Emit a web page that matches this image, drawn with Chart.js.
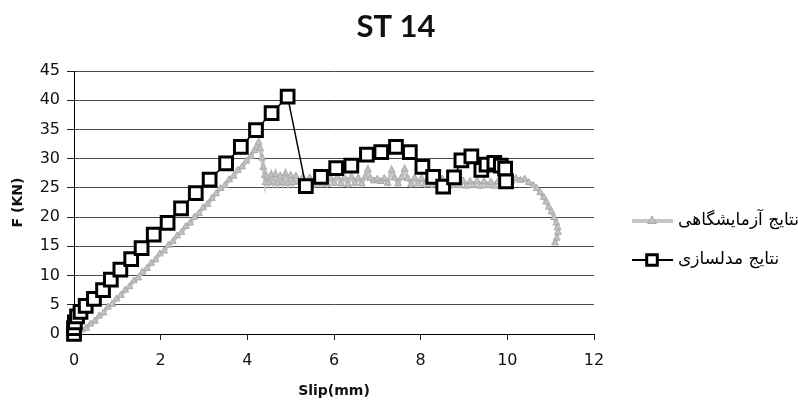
<!DOCTYPE html>
<html>
<head>
<meta charset="utf-8">
<script src="https://cdn.jsdelivr.net/npm/chart.js@4/dist/chart.umd.min.js"></script>
<style>
  html, body { margin: 0; padding: 0; background: #ffffff; }
  #wrap { width: 798px; height: 403px; }
</style>
</head>
<body>
<div id="wrap"><canvas id="c" width="798" height="403"></canvas></div>
<script>
// Slip axis ticks and force axis ticks
const xTickValues = [0, 2, 4, 6, 8, 10, 12];
const yTickValues = [0, 5, 10, 15, 20, 25, 30, 35, 40, 45];

// Laboratory results (نتایج آزمایشگاهی)
const slipTest = [
  0, 0.08, 0.18, 0.28, 0.38, 0.48, 0.58, 0.68, 0.78, 0.88,
  0.98, 1.08, 1.18, 1.28, 1.38, 1.48, 1.58, 1.68, 1.78, 1.88,
  1.98, 2.08, 2.18, 2.28, 2.38, 2.48, 2.58, 2.68, 2.78, 2.88,
  2.98, 3.08, 3.18, 3.28, 3.38, 3.48, 3.58, 3.68, 3.78, 3.88,
  3.98, 4.08, 4.16, 4.22, 4.26, 4.30, 4.34, 4.37, 4.40, 4.42,
  4.45, 4.50, 4.55, 4.60, 4.65, 4.70, 4.76, 4.82, 4.88, 4.94,
  5.00, 5.06, 5.12, 5.20, 5.28,
  5.36, 5.44, 5.52, 5.60, 5.68, 5.76, 5.84, 5.92, 6.00, 6.08,
  6.16, 6.24, 6.32, 6.40, 6.48, 6.56, 6.64, 6.72,
  6.78, 6.84, 6.92, 7.00, 7.08, 7.16, 7.24,
  7.33, 7.40, 7.48, 7.56, 7.63, 7.70, 7.78, 7.86, 7.94,
  8.02, 8.10, 8.18, 8.26, 8.34, 8.42, 8.50, 8.58, 8.66, 8.74,
  8.82, 8.90, 8.98, 9.06, 9.14, 9.22, 9.30, 9.38, 9.46, 9.54,
  9.62, 9.70, 9.78, 9.86, 9.94, 10.02,
  10.10, 10.20, 10.30, 10.40, 10.50, 10.60, 10.68, 10.76, 10.84, 10.90,
  10.96, 11.02, 11.08, 11.13, 11.16, 11.17, 11.14, 11.10
];
const forceTest = [
  0.0, 0.4, 0.7, 1.0, 1.7, 2.2, 3.1, 3.6, 4.6, 5.1,
  6.0, 6.6, 7.5, 8.1, 9.1, 9.6, 10.6, 11.2, 12.1, 12.7,
  13.7, 14.2, 15.2, 15.8, 16.8, 17.4, 18.4, 19.0, 20.0, 20.6,
  21.6, 22.2, 23.2, 24.0, 24.9, 25.4, 26.4, 27.0, 28.0, 28.6,
  29.6, 30.4, 31.4, 32.1, 32.8, 31.7, 30.1, 28.5, 27.1, 25.9,
  26.9, 25.9, 27.2, 26.0, 27.3, 25.8, 27.0, 25.9, 27.4, 25.8,
  27.1, 25.9, 27.0, 26.0, 26.8,
  25.6, 26.7, 25.5, 26.6, 25.7, 26.8, 25.6, 26.7, 25.8, 26.9,
  25.7, 26.8, 25.6, 26.9, 25.8, 26.7, 25.7, 26.9,
  28.1, 26.6, 26.2, 26.5, 26.1, 26.6, 25.8,
  28.0, 26.7, 25.7, 26.8, 28.2, 26.6, 25.6, 26.7, 25.7,
  26.6, 25.6, 26.7, 25.5, 26.6, 25.6, 26.5, 25.5, 26.4, 25.4,
  26.3, 25.4, 26.2, 25.3, 26.1, 25.4, 26.2, 25.3, 26.1, 25.4,
  26.0, 25.3, 26.1, 25.4, 26.0, 25.6,
  26.2, 26.6, 26.3, 26.5, 25.9, 25.4, 24.9, 24.2, 23.4, 22.6,
  21.7, 20.9, 19.9, 19.0, 18.2, 17.4, 16.4, 15.6
];

// Modelling results (نتایج مدلسازی)
const slipModel = [
  0, 0.00, 0.02, 0.07, 0.15, 0.27, 0.46, 0.67, 0.85, 1.07,
  1.32, 1.56, 1.84, 2.16, 2.47, 2.81, 3.13, 3.51, 3.85, 4.20,
  4.56, 4.93, 5.35, 5.70, 6.05, 6.40, 6.76, 7.09, 7.43, 7.75,
  8.04, 8.29, 8.52, 8.77, 8.94, 9.17, 9.40, 9.52, 9.70, 9.85,
  9.95, 9.97
];
const forceModel = [
  0.0, 1.0, 2.0, 3.0, 3.8, 4.8, 6.0, 7.5, 9.3, 11.0,
  12.8, 14.7, 17.0, 19.0, 21.5, 24.1, 26.4, 29.2, 32.0, 34.9,
  37.8, 40.6, 25.3, 26.9, 28.4, 28.8, 30.7, 31.1, 32.0, 31.1,
  28.6, 26.9, 25.2, 26.8, 29.7, 30.4, 28.1, 29.0, 29.3, 28.8,
  28.3, 26.1
];

const chartTitle = 'ST 14';
const xTitle = 'Slip(mm)';
const yTitle = 'F (KN)';
const seriesNames = ['نتایج آزمایشگاهی', 'نتایج مدلسازی'];

function toPoints(xs, ys) {
  return xs.map((x, i) => ({ x: x, y: ys[i] }));
}

// Title and a line-plus-marker legend drawn on the canvas
const decorPlugin = {
  id: 'decor',
  afterDraw(chart) {
    const ctx = chart.ctx;
    ctx.save();
    ctx.fillStyle = '#111';
    ctx.font = 'bold 31px Lato, "DejaVu Sans", sans-serif';
    ctx.textAlign = 'center';
    ctx.textBaseline = 'middle';
    ctx.fillText(chartTitle, 396, 27);

    const rows = [
      { ds: chart.data.datasets[0], y: 221, lineW: 4 },
      { ds: chart.data.datasets[1], y: 260, lineW: 2 }
    ];
    rows.forEach(r => {
      const ds = r.ds;
      ctx.strokeStyle = ds.borderColor;
      ctx.lineWidth = r.lineW;
      ctx.beginPath();
      ctx.moveTo(632, r.y);
      ctx.lineTo(673, r.y);
      ctx.stroke();
      ctx.fillStyle = ds.pointBackgroundColor;
      ctx.strokeStyle = ds.pointBorderColor;
      ctx.lineWidth = ds.pointBorderWidth;
      Chart.helpers.drawPoint(ctx, {
        pointStyle: ds.pointStyle,
        radius: ds.legendRadius,
        borderWidth: ds.pointBorderWidth,
        rotation: 0
      }, 652, r.y);
      ctx.fillStyle = '#000';
      ctx.font = '17px "DejaVu Sans", sans-serif';
      ctx.textAlign = 'left';
      ctx.textBaseline = 'middle';
      ctx.fillText(ds.label, 678, r.y);
    });
    ctx.restore();
  }
};

new Chart(document.getElementById('c'), {
  type: 'line',
  data: {
    datasets: [
      {
        label: seriesNames[0],
        data: toPoints(slipTest, forceTest),
        borderColor: '#c6c6c6',
        borderWidth: 4,
        pointStyle: 'triangle',
        pointRadius: 4,
        legendRadius: 5,
        pointBackgroundColor: '#c2c2c2',
        pointBorderColor: '#aaaaaa',
        pointBorderWidth: 1,
        tension: 0,
        order: 1,
        clip: false
      },
      {
        label: seriesNames[1],
        data: toPoints(slipModel, forceModel),
        borderColor: '#000000',
        borderWidth: 1.5,
        pointStyle: 'rect',
        pointRadius: 9,
        legendRadius: 7.5,
        pointBackgroundColor: '#ffffff',
        pointBorderColor: '#000000',
        pointBorderWidth: 3,
        tension: 0,
        order: 0,
        clip: false
      }
    ]
  },
  options: {
    responsive: false,
    animation: false,
    events: [],
    layout: { padding: { top: 71, right: 204, bottom: 0, left: 0 } },
    plugins: {
      legend: { display: false },
      tooltip: { enabled: false },
      title: { display: false }
    },
    scales: {
      x: {
        type: 'linear',
        min: 0,
        max: 12,
        afterBuildTicks(scale) { scale.ticks = xTickValues.map(v => ({ value: v })); },
        afterFit(scale) { scale.height = 69; },
        ticks: {
          color: '#111',
          font: { family: '"DejaVu Sans", sans-serif', size: 16 },
          padding: 11,
          maxRotation: 0,
          autoSkip: false
        },
        grid: { drawOnChartArea: false, drawTicks: true, tickLength: 6, tickColor: '#222', color: '#222' },
        border: { display: true, color: '#000', width: 1 },
        title: {
          display: true,
          text: xTitle,
          color: '#111',
          font: { family: '"DejaVu Sans", sans-serif', size: 14, weight: 'bold' },
          padding: { top: 0, bottom: 3 }
        }
      },
      y: {
        type: 'linear',
        min: 0,
        max: 45,
        afterBuildTicks(scale) { scale.ticks = yTickValues.map(v => ({ value: v })); },
        afterFit(scale) { scale.width = 74; },
        ticks: {
          color: '#111',
          font: { family: '"DejaVu Sans", sans-serif', size: 16 },
          padding: 7,
          autoSkip: false
        },
        grid: { color: '#4a4a4a', lineWidth: 1, tickLength: 7, tickColor: '#222' },
        border: { display: true, color: '#000', width: 1 },
        title: {
          display: true,
          text: yTitle,
          color: '#111',
          font: { family: '"DejaVu Sans", sans-serif', size: 14, weight: 'bold' },
          padding: { top: 10, bottom: 0 }
        }
      }
    }
  },
  plugins: [decorPlugin]
});
</script>
</body>
</html>
